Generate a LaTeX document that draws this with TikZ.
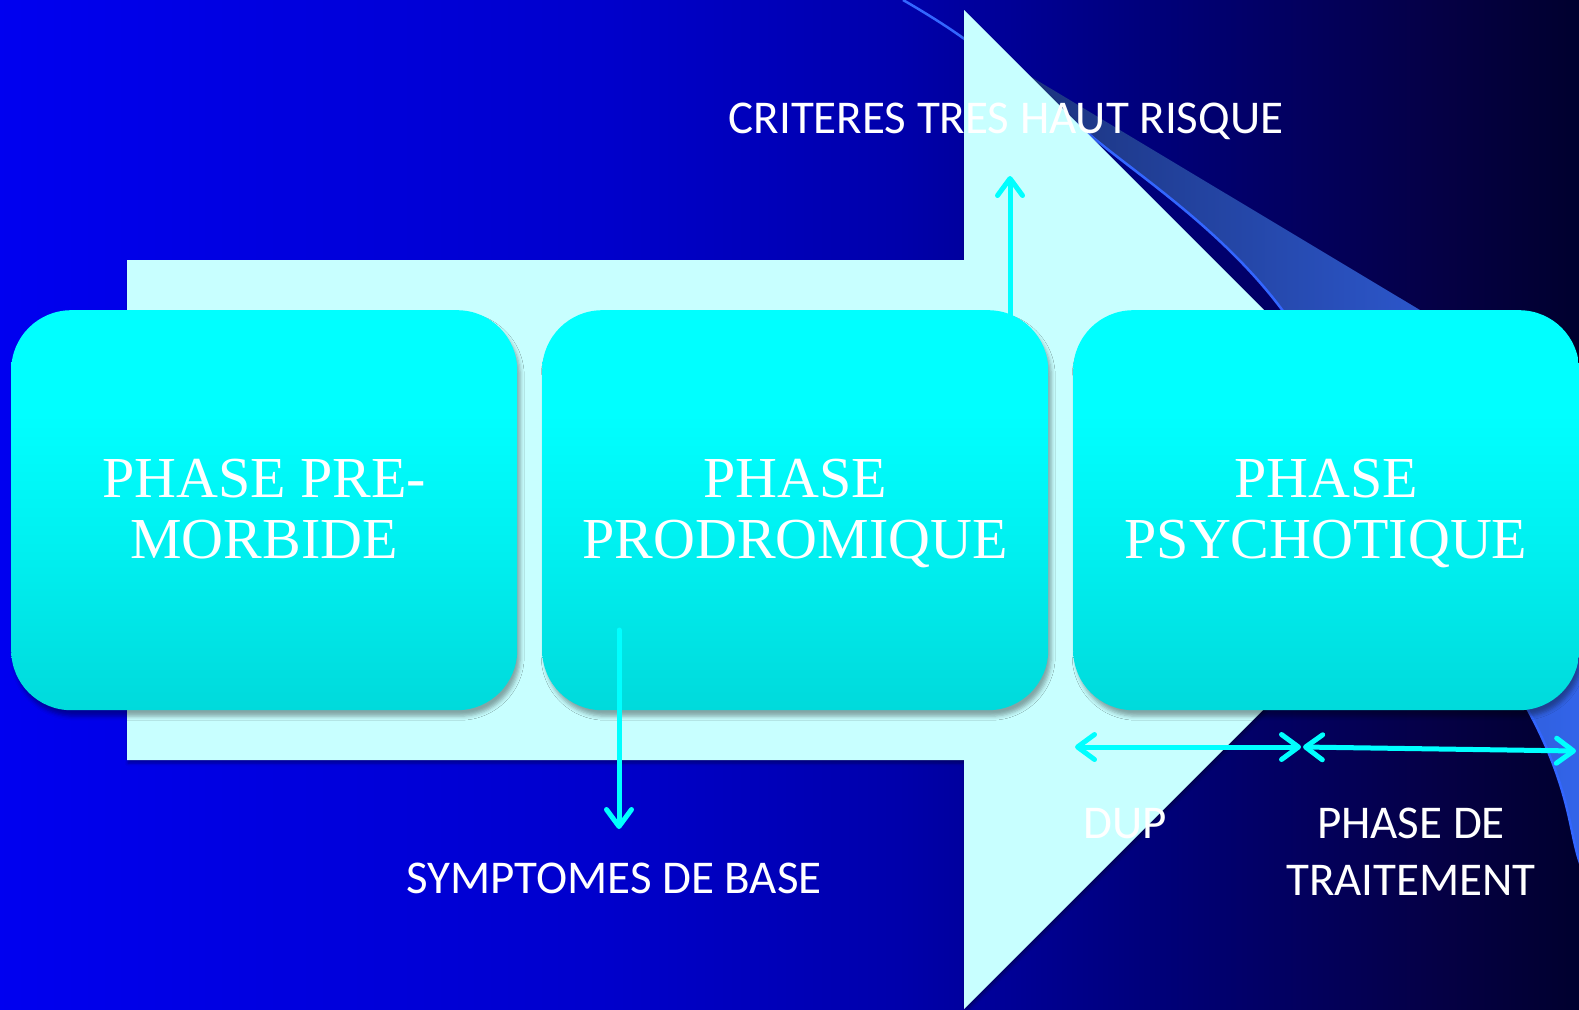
\documentclass[tikz,border=0pt]{standalone}
\usepackage{fontspec}
\setmainfont{Liberation Serif}
\newfontfamily\labelfont{Carlito}
\usetikzlibrary{arrows.meta,shadows,shadows.blur}

\definecolor{arrowfill}{RGB}{200,255,255}
\definecolor{linkcyan}{RGB}{0,255,255}
\definecolor{swoosh}{RGB}{51,102,255}

% slide backdrop: bright blue on the left, almost black on the right
\pgfdeclarehorizontalshading{backdrop}{100bp}{%
  rgb(0bp)=(0,0,0.94); rgb(25bp)=(0,0,0.94); rgb(44bp)=(0,0,0.80);
  rgb(53.5bp)=(0,0,0.67); rgb(61.4bp)=(0,0,0.48); rgb(70.6bp)=(0.02,0,0.27);
  rgb(75bp)=(0,0,0.18); rgb(100bp)=(0,0,0.18)}
% decorative swoosh band
\pgfdeclarehorizontalshading{swooshfill}{100bp}{%
  rgb(0bp)=(0.09,0.16,0.40); rgb(25bp)=(0.09,0.16,0.40);
  rgb(75bp)=(0.20,0.40,0.93); rgb(100bp)=(0.20,0.40,0.93)}
% phase boxes: cyan on top, slightly darker at the bottom
\pgfdeclareverticalshading{boxshade}{100bp}{%
  rgb(0bp)=(0,0.855,0.86); rgb(25bp)=(0,0.855,0.86); rgb(45bp)=(0,0.94,0.94);
  rgb(62bp)=(0,1,1); rgb(100bp)=(0,1,1)}

\tikzset{
  >={Straight Barb[length=17pt,width=25pt,round]},
  phasebox/.style={shading=boxshade, rounded corners=60pt, inner sep=0pt,
    minimum width=506pt, minimum height=400pt, anchor=north west,
    blur shadow={shadow xshift=3pt, shadow yshift=-6pt,
      shadow blur radius=4pt, shadow opacity=35}},
  phasetext/.style={text=white, font=\fontsize{58}{61}\selectfont,
    align=center, anchor=base, inner sep=0pt},
  note/.style={text=white, font=\labelfont\fontsize{47}{57}\selectfont,
    align=center, anchor=base, inner sep=0pt},
  link/.style={draw=linkcyan, line width=5pt, line cap=round, ->},
  twoway/.style={link, <->},
}

\begin{document}
\begin{tikzpicture}[x=1pt, y=-1pt]
  \useasboundingbox (0,0) rectangle (1579,1009);
  \clip (0,0) rectangle (1579,1009);

  % background
  \shade[shading=backdrop] (0,0) rectangle (1579,1009);

  % swoosh band and its edge line
  \shade[shading=swooshfill]
    plot[smooth] coordinates {(903,0) (963,38) (1090,135) (1280,307)
                              (1528,710) (1579,860) (1600,930)}
    -- (1600,418) -- cycle;
  \draw[swoosh, line width=2.5pt]
    plot[smooth] coordinates {(903,0) (963,38) (1090,135) (1280,307)
                              (1528,710) (1579,860) (1600,930)};

  % large timeline arrow
  \fill[arrowfill, blur shadow={shadow xshift=1pt, shadow yshift=-3pt,
      shadow blur radius=3pt, shadow opacity=35}]
    (127,260) -- (964,260) -- (964,10) -- (1463.5,509.5)
    -- (964,1009) -- (964,760) -- (127,760) -- cycle;

  % phase boxes
  \node[phasebox] (b1) at (11,310) {};
  \node[phasebox] (b2) at (542,310) {};
  \node[phasebox] (b3) at (1073,310) {};

  % multi-line texts are anchored at the baseline of their last line
  \node[phasetext] (t1) at (264,558) {PHASE PRE-\\MORBIDE};
  \node[phasetext] (t2) at (795,558) {PHASE\\PRODROMIQUE};
  \node[phasetext] (t3) at (1326,558) {PHASE\\PSYCHOTIQUE};

  % labels
  \node[note] (crit) at (1006,133) {CRITERES TRES HAUT RISQUE};
  \node[note] (symp) at (614,893) {SYMPTOMES DE BASE};
  \node[note] (dup) at (1125,838) {DUP};
  \node[note] (trt) at (1411,895) {PHASE DE\\TRAITEMENT};

  % connector end points
  \coordinate (upfrom) at (1010,345);
  \coordinate (upto) at (1010,176);
  \coordinate (downfrom) at (619,630);
  \coordinate (downto) at (619,829);
  \coordinate (dupL) at (1075,747);
  \coordinate (dupR) at (1301,747);
  \coordinate (trtL) at (1303,747);
  \coordinate (trtR) at (1576,751);

  \draw[link] (upfrom) -- (upto);
  \draw[link] (downfrom) -- (downto);
  \draw[twoway] (dupL) -- (dupR);
  \draw[twoway] (trtL) -- (trtR);
\end{tikzpicture}
\end{document}
